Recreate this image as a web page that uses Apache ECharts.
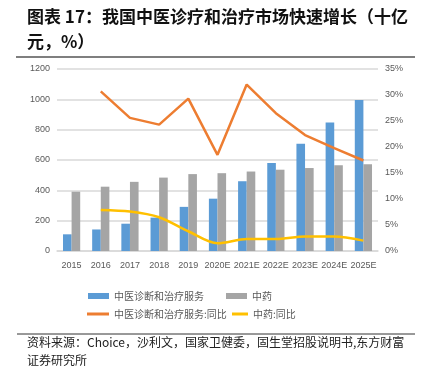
<!DOCTYPE html>
<html><head><meta charset="utf-8">
<script src="https://cdn.jsdelivr.net/npm/echarts@6/dist/echarts.min.js"></script>
<style>html,body{margin:0;padding:0;background:#fff}#c{width:422px;height:369px}</style>
</head><body><div id="c"></div>
<script>
const categories = ['2015','2016','2017','2018','2019','2020E','2021E','2022E','2023E','2024E','2025E'];
const serviceValues = [110,142,180,220,291,345,460,580,707,847,995];
const herbValues = [391,424,456,484,507,513,524,536,547,565,572];
const serviceYoY = [null,30.7,25.6,24.3,29.3,18.5,32.0,26.5,22.3,19.8,17.4];
const herbYoY = [null,7.9,7.6,6.5,3.8,1.5,2.3,2.3,2.8,2.8,2.0];
const seriesNames = ['中医诊断和治疗服务','中药','中医诊断和治疗服务:同比','中药:同比'];
const titleLines = ['图表 17：我国中医诊疗和治疗市场快速增长（十亿','元，%）'];
const sourceLines = ['资料来源：Choice，沙利文，国家卫健委，固生堂招股说明书,东方财富','证券研究所'];

const chart = echarts.init(document.getElementById('c'), null, {renderer:'canvas'});
const txt = {fontSize:9, color:'#595959', fontFamily:'"Liberation Sans", Arial, sans-serif'};
const legendBase = {itemGap:0, textStyle:{fontSize:10, color:'#595959', fontFamily:'"Noto Sans CJK SC", sans-serif'}, selectedMode:false, icon:'rect'};
chart.setOption({
  animation:false,
  backgroundColor:'#fff',
  grid:{left:57, right:44, top:69, bottom:118, containLabel:false},
  xAxis:{type:'category', data:categories, boundaryGap:true,
    axisLine:{lineStyle:{color:'#D9D9D9', width:1.5}}, axisTick:{show:false},
    axisLabel:Object.assign({margin:10, interval:0}, txt)},
  yAxis:[
    {type:'value', min:0, max:1200, interval:200,
     axisLine:{show:false}, axisTick:{show:false},
     splitLine:{lineStyle:{color:'#D9D9D9', width:1.5}},
     axisLabel:Object.assign({margin:7, formatter:function(v){return String(v);}}, txt)},
    {type:'value', min:0, max:35, interval:5, position:'right',
     axisLine:{show:false}, axisTick:{show:false}, splitLine:{show:false},
     axisLabel:Object.assign({margin:7, formatter:'{value}%'}, txt)}
  ],
  legend:[
    Object.assign({data:[seriesNames[0]], left:83, top:286, itemWidth:21, itemHeight:6}, legendBase),
    Object.assign({data:[seriesNames[1]], left:221, top:286, itemWidth:21, itemHeight:6}, legendBase),
    Object.assign({data:[seriesNames[2]], left:82, top:304, itemWidth:22, itemHeight:3}, legendBase),
    Object.assign({data:[seriesNames[3]], left:227, top:304, itemWidth:16, itemHeight:3}, legendBase)
  ],
  series:[
    {name:seriesNames[0], type:'bar', data:serviceValues, barGap:'0%', barCategoryGap:'41%', itemStyle:{color:'#5B9BD5'}},
    {name:seriesNames[1], type:'bar', data:herbValues, barGap:'0%', barCategoryGap:'41%', itemStyle:{color:'#A5A5A5'}},
    {name:seriesNames[2], type:'line', yAxisIndex:1, data:serviceYoY, symbol:'none', lineStyle:{color:'#ED7D31', width:2.5}, itemStyle:{color:'#ED7D31'}},
    {name:seriesNames[3], type:'line', yAxisIndex:1, data:herbYoY, symbol:'none', smooth:0.3, lineStyle:{color:'#FFC000', width:2.5}, itemStyle:{color:'#FFC000'}}
  ],
  graphic:[
    {type:'text', left:27, top:8, style:{text:titleLines[0], font:'bold 17px "Noto Sans CJK SC", sans-serif', fill:'#111'}},
    {type:'text', left:27, top:33, style:{text:titleLines[1], font:'bold 17px "Noto Sans CJK SC", sans-serif', fill:'#111'}},
    {type:'line', shape:{x1:16, y1:57, x2:415, y2:57}, style:{stroke:'#7F7F7F', lineWidth:2}},
    {type:'line', shape:{x1:17, y1:334, x2:415, y2:334}, style:{stroke:'#333', lineWidth:1}},
    {type:'text', left:27, top:336, style:{text:sourceLines[0], font:'12px "Noto Sans CJK SC", sans-serif', fill:'#222'}},
    {type:'text', left:27, top:354, style:{text:sourceLines[1], font:'12px "Noto Sans CJK SC", sans-serif', fill:'#222'}}
  ]
});
</script></body></html>
